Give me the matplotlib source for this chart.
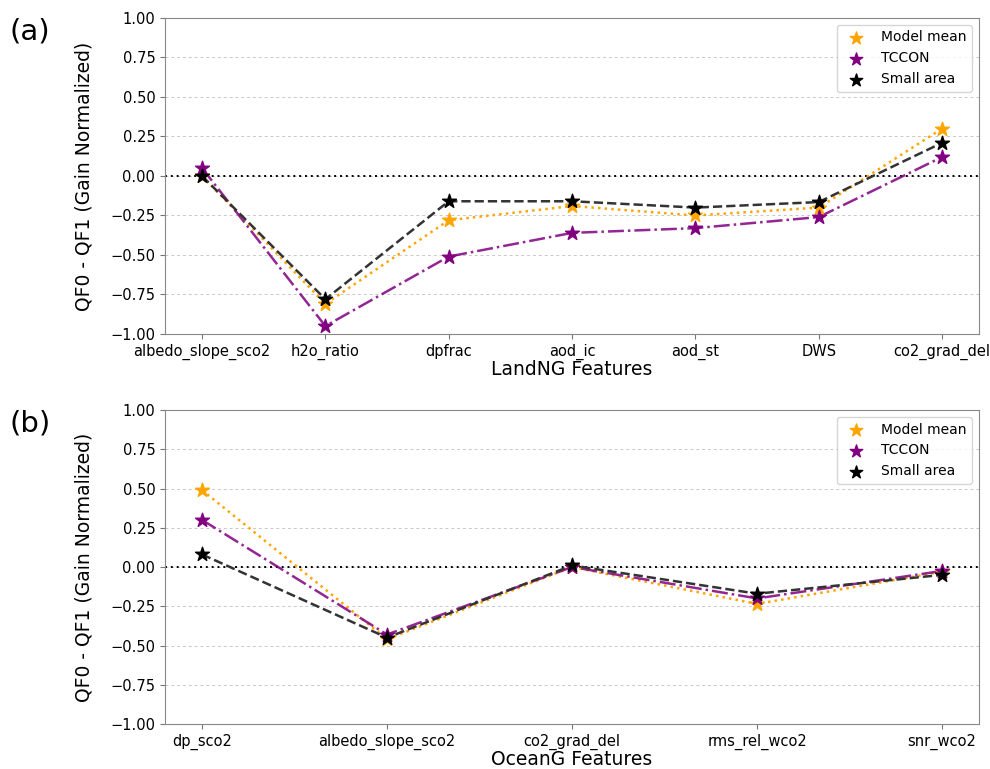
import numpy as np
import matplotlib.pyplot as plt

# LandNG features
land_feats = ['albedo_slope_sco2', 'h2o_ratio', 'dpfrac', 'aod_ic', 'aod_st', 'DWS', 'co2_grad_del']
land_mean = [0.00, -0.81, -0.28, -0.19, -0.25, -0.20, 0.30]
land_tccon = [0.05, -0.95, -0.51, -0.36, -0.33, -0.26, 0.12]
land_small = [0.00, -0.78, -0.16, -0.16, -0.20, -0.165, 0.21]

# OceanG features
ocean_feats = ['dp_sco2', 'albedo_slope_sco2', 'co2_grad_del', 'rms_rel_wco2', 'snr_wco2']
ocean_mean = [0.49, -0.46, 0.00, -0.235, -0.03]
ocean_tccon = [0.30, -0.43, 0.00, -0.20, -0.025]
ocean_small = [0.08, -0.45, 0.01, -0.17, -0.05]

plt.rcParams['font.family'] = 'DejaVu Sans'

fig = plt.figure(figsize=(9.9, 7.69), dpi=100)
ax1 = fig.add_axes([0.1667, 0.5657, 0.8223, 0.4109])
ax2 = fig.add_axes([0.1667, 0.0585, 0.8223, 0.4083])


def draw(ax, feats, mean, tccon, small, xlabel):
    x = np.arange(len(feats))
    ax.axhline(0, color='black', ls=(0, (1, 2)), lw=1.4, zorder=1)
    ax.plot(x, mean, color='orange', ls=':', lw=1.8, zorder=2)
    ax.plot(x, tccon, color='purple', ls='-.', lw=1.8, alpha=0.85, zorder=2)
    ax.plot(x, small, color='#333333', ls='--', lw=1.8, zorder=2)
    ax.scatter(x, mean, marker='*', s=110, color='orange', label='Model mean', zorder=3)
    ax.scatter(x, tccon, marker='*', s=110, color='purple', label='TCCON', zorder=3)
    ax.scatter(x, small, marker='*', s=110, color='black', label='Small area', zorder=3)
    ax.set_ylim(-1, 1)
    ax.set_yticks(np.arange(-1, 1.01, 0.25))
    ax.set_xticks(x)
    ax.set_xticklabels(feats)
    ax.tick_params(labelsize=10.5, color='#777777')
    ax.yaxis.grid(True, ls=(0, (3, 3)), color='#c8c8c8', lw=0.7)
    ax.set_axisbelow(True)
    for s in ax.spines.values():
        s.set_color('#888888')
    ax.set_xlabel(xlabel, fontsize=13.5, labelpad=0)
    ax.set_ylabel('QF0 - QF1 (Gain Normalized)', fontsize=13.5, labelpad=12)
    ax.legend(loc='upper right', fontsize=10, markerscale=0.9)


draw(ax1, land_feats, land_mean, land_tccon, land_small, 'LandNG Features')
draw(ax2, ocean_feats, ocean_mean, ocean_tccon, ocean_small, 'OceanG Features')

fig.text(0.01, 0.977, '(a)', fontsize=21, va='top')
fig.text(0.01, 0.467, '(b)', fontsize=21, va='top')

fig.savefig('out.png', dpi=100)
